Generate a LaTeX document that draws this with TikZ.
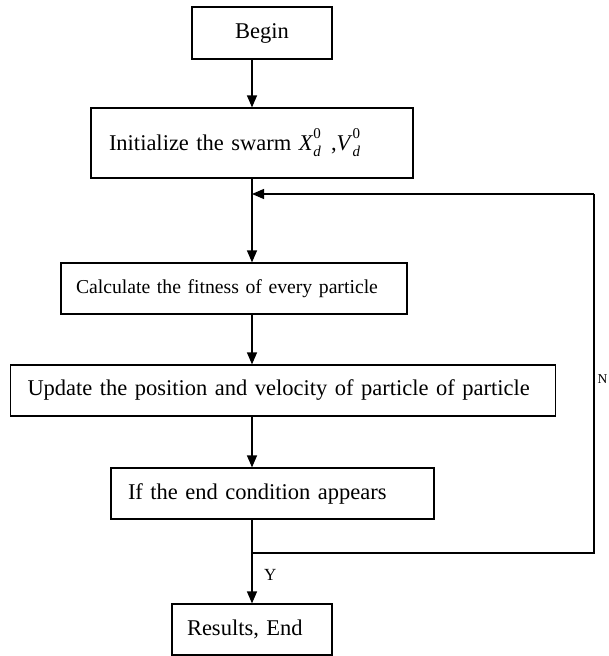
\documentclass[tikz,border=0pt]{standalone}
\usepackage{fontspec}
\setmainfont{Liberation Serif}
\usetikzlibrary{arrows.meta}
\newcommand\mysubsup[2]{\makebox[0pt][l]{\raisebox{0.5em}{\fontsize{15}{15}\selectfont #2}}\raisebox{-0.3em}{\fontsize{15}{15}\selectfont\itshape #1}\hspace{0.45em}}
\tikzset{
  box/.style={draw, line width=1.2pt, minimum height=51pt, inner ysep=0pt, font=\fontsize{22.5}{26}\selectfont},
  lbox/.style 2 args={box, text width=#1pt, inner xsep=#2pt, align=left},
  arr/.style={line width=1.2pt, -{Triangle[width=10pt,length=12pt]}},
  ln/.style={line width=1.2pt},
  lbl/.style={font=\fontsize{17}{19}\selectfont, inner sep=0pt}
}
\begin{document}
\begin{tikzpicture}[x=1pt,y=-1pt]
\useasboundingbox (0,0) rectangle (608,656);
\coordinate (spine) at (252,0);
\node[box, minimum width=140pt, minimum height=52pt] (begin) at (262,33) {Begin};
\node[lbox={286}{18}, minimum height=70pt] (init) at (252,143) {Initialize the swarm \textit{X}\mysubsup{d}{0},\textit{V}\mysubsup{d}{0}};
\node[lbox={316}{15}, font=\fontsize{19.7}{24}\selectfont] (calc) at (234,288.5) {Calculate the fitness of every particle};
\node[lbox={511}{17}] (upd) at (283,390.5) {Update the position and velocity of particle of particle};
\node[lbox={289}{17}] (cond) at (272.5,493.5) {If the end condition appears};
\node[lbox={130}{15}] (res) at (252,629.5) {Results, End};
\coordinate (br) at (252,553);
\coordinate (brR) at (594,553);
\coordinate (topR) at (594,194);
\coordinate (join) at (252,194);
\draw[arr] (begin.south -| spine) -- (init.north -| spine);
\draw[arr] (init.south -| spine) -- (calc.north -| spine);
\draw[arr] (calc.south -| spine) -- (upd.north -| spine);
\draw[arr] (upd.south -| spine) -- (cond.north -| spine);
\draw[arr] (cond.south -| spine) -- (res.north -| spine);
\draw[ln] (br) -- (brR) -- (topR);
\draw[arr] (topR) -- (join);
\node[lbl, anchor=west] (Y) at (264,575) {Y};
\node[lbl, anchor=east, font=\fontsize{13.5}{15}\selectfont] (N) at (607.5,379) {N};
\end{tikzpicture}
\end{document}
